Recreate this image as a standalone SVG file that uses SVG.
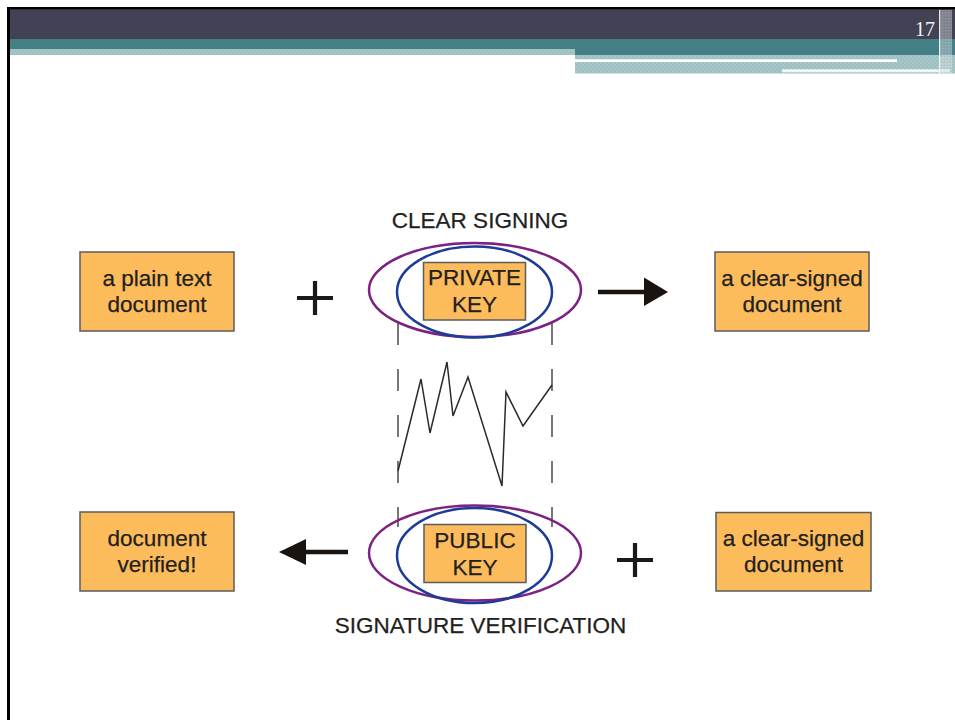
<svg xmlns="http://www.w3.org/2000/svg" width="955" height="720" viewBox="0 0 955 720">
<style>
.box{fill:#FDBC5C;stroke:#5b5b5b;stroke-width:1.5}
.t{font-family:"Liberation Sans",Arial,sans-serif;font-size:22.5px;fill:#231f20;text-anchor:middle;stroke:#231f20;stroke-width:0.25}
.purple{fill:none;stroke:#7d2283;stroke-width:2.5}
.blue{fill:none;stroke:#1d3c98;stroke-width:2.5}
.dash{stroke:#555;stroke-width:1.6;stroke-dasharray:22 24;fill:none}
.plus{stroke:#1a1a1a;stroke-width:4.2;fill:none}
</style>
<defs>
<pattern id="hatch" width="4" height="4" patternUnits="userSpaceOnUse">
<rect width="4" height="4" fill="#a6c6c7"/>
<rect width="2" height="2" fill="#9cbfc0"/>
<rect x="2" y="2" width="2" height="2" fill="#9cbfc0"/>
</pattern>
<pattern id="grid" width="3" height="3" patternUnits="userSpaceOnUse">
<rect width="3" height="3" fill="#c9d3d6"/>
<rect width="1.5" height="1.5" fill="#f4f6f6"/>
</pattern>
</defs>
<rect width="955" height="720" fill="#ffffff"/>
<g id="header">
<rect x="10" y="9.5" width="945" height="30" fill="#424254"/>
<rect x="10" y="39" width="945" height="10" fill="#437f85"/>
<rect x="10" y="49" width="565" height="6" fill="url(#hatch)"/>
<rect x="575" y="49" width="380" height="6" fill="#437f85"/>
<rect x="575" y="55" width="380" height="18.5" fill="url(#hatch)"/>
<rect x="575" y="59.3" width="322" height="2.7" fill="#ffffff"/>
<rect x="782" y="69.3" width="168" height="3" fill="#f2f8f8"/>
<rect x="939" y="9.5" width="13" height="64" fill="url(#grid)" opacity="0.45"/>
<rect x="939" y="9.5" width="1.2" height="64" fill="#ffffff" opacity="0.8"/>
<text x="925" y="35.5" font-family="Liberation Serif,'Times New Roman',serif" font-size="20" fill="#f4f4f4" text-anchor="middle">17</text>
</g>
<g id="frame">
<rect x="7" y="7" width="948" height="2.7" fill="#000"/>
<rect x="7" y="7" width="3" height="713" fill="#000"/>
</g>
<g id="clear-signing-label"><text class="t" x="480" y="228">CLEAR SIGNING</text></g>
<g id="signature-verification-label"><text class="t" x="480.5" y="633">SIGNATURE VERIFICATION</text></g>
<g id="connectors">
<line class="dash" x1="398" y1="323" x2="398" y2="527"/>
<line class="dash" x1="552" y1="323" x2="552" y2="527"/>
<polyline points="398,471 421,379 430,433 447,362 453,416 468,377 502,486 506,392 523,426 552,385" fill="none" stroke="#2a2a2a" stroke-width="1.5" stroke-linejoin="miter"/>
<g id="arrow-right">
<line x1="598" y1="292" x2="647" y2="292" stroke="#1a1410" stroke-width="4.5"/>
<polygon points="644,277.5 668,292 644,306" fill="#1a1410"/>
</g>
<g id="arrow-left">
<line x1="303" y1="552" x2="348" y2="552" stroke="#1a1410" stroke-width="4.5"/>
<polygon points="306,539 279,552 306,565" fill="#1a1410"/>
</g>
<g id="plus-top">
<line class="plus" x1="297" y1="298" x2="333" y2="298"/>
<line class="plus" x1="315" y1="281" x2="315" y2="315"/>
</g>
<g id="plus-bottom">
<line class="plus" x1="617" y1="560" x2="653" y2="560"/>
<line class="plus" x1="635" y1="543" x2="635" y2="577"/>
</g>
</g>
<g id="plain-text-document">
<rect class="box" x="80" y="252" width="154" height="79"/>
<text class="t" x="157" y="286">a plain text</text>
<text class="t" x="157" y="312">document</text>
</g>
<g id="private-key">
<ellipse class="purple" cx="475" cy="290" rx="106" ry="47"/>
<ellipse class="blue" cx="474.5" cy="292" rx="77.5" ry="45.5"/>
<rect class="box" x="423.5" y="262.5" width="102" height="57.5"/>
<text class="t" x="474.5" y="285">PRIVATE</text>
<text class="t" x="474.5" y="311.5">KEY</text>
</g>
<g id="clear-signed-document-top">
<rect class="box" x="715" y="252" width="154" height="79"/>
<text class="t" x="792" y="285.5">a clear-signed</text>
<text class="t" x="792" y="312">document</text>
</g>
<g id="public-key">
<ellipse class="purple" cx="475" cy="553" rx="106" ry="47.5"/>
<ellipse class="blue" cx="474.5" cy="555.5" rx="77.5" ry="47.5"/>
<rect class="box" x="424" y="524.5" width="102" height="58"/>
<text class="t" x="475" y="547.5">PUBLIC</text>
<text class="t" x="475" y="575">KEY</text>
</g>
<g id="document-verified">
<rect class="box" x="80" y="512" width="154" height="79"/>
<text class="t" x="157" y="545.5">document</text>
<text class="t" x="157" y="572">verified!</text>
</g>
<g id="clear-signed-document-bottom">
<rect class="box" x="716" y="512.5" width="155" height="78.5"/>
<text class="t" x="793.5" y="545.5">a clear-signed</text>
<text class="t" x="793.5" y="572">document</text>
</g>
</svg>
